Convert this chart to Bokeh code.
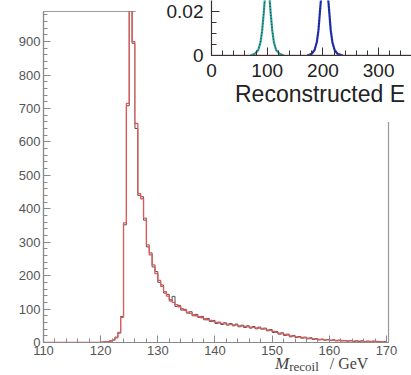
from bokeh.plotting import figure
from bokeh.models import Range1d, FixedTicker, Div
from bokeh.embed import file_html
from bokeh.resources import INLINE

# ---------------- data: main histogram (M_recoil, 0.5 GeV bins from 110 to 170) ----------------
bin_start = 110.0
bin_width = 0.5
mc_counts = [
    0, 0, 0, 0, 0, 0, 0, 0, 0, 0, 0, 0, 0, 0, 0, 0, 0, 0, 0, 0,
    1, 1, 2, 4, 7, 14, 30, 75, 358, 715, 1500, 900, 655, 445, 430, 372, 292, 262, 232, 206,
    186, 168, 152, 139, 128, 120, 113, 107, 101, 96, 91, 87, 83, 80, 77, 74, 71, 68, 66, 63,
    60, 58, 57, 56, 55, 54, 53, 52, 50, 49, 48, 47, 46, 45, 44, 43, 42, 40, 38, 36,
    33, 30, 28, 26, 24, 22, 20, 19, 17, 16, 15, 14, 13, 12, 11, 10, 9, 9, 8, 8,
    7, 7, 6, 6, 6, 5, 5, 5, 4, 4, 4, 4, 3, 3, 3, 3, 3, 2, 2, 2,
]
data_counts = [
    0, 0, 0, 0, 0, 0, 0, 0, 0, 0, 0, 0, 0, 0, 0, 0, 0, 0, 0, 0,
    1, 2, 2, 5, 8, 16, 28, 78, 352, 708, 1500, 895, 640, 440, 436, 366, 286, 268, 226, 212,
    180, 172, 148, 144, 124, 138, 108, 111, 97, 99, 88, 92, 80, 84, 75, 78, 68, 72, 63, 66,
    57, 61, 54, 59, 52, 57, 50, 55, 47, 52, 45, 50, 43, 48, 41, 46, 40, 43, 35, 39,
    30, 33, 25, 29, 21, 25, 17, 21, 15, 18, 13, 16, 11, 14, 9, 12, 8, 10, 7, 9,
    6, 8, 5, 7, 5, 6, 4, 6, 3, 5, 3, 5, 2, 4, 2, 4, 2, 3, 1, 3,
]
x_ticks = [110, 120, 130, 140, 150, 160, 170]
y_ticks = [0, 100, 200, 300, 400, 500, 600, 700, 800, 900]

# ---------------- data: inset (Reconstructed E) ----------------
inset_x_ticks = [0, 100, 200, 300]
inset_y_ticks = [0, 0.02]
teal_x = [70, 78, 84, 88, 91, 94, 97, 100, 103, 106, 109, 112, 116, 122, 130]
teal_y = [0, 0.0008, 0.0025, 0.006, 0.0115, 0.02, 0.03, 0.036, 0.03, 0.02, 0.0115, 0.006, 0.0025, 0.0008, 0]
blue_x = [172, 180, 185, 189, 192, 196, 203, 210, 214, 217, 221, 226, 236]
blue_y = [0, 0.0008, 0.0025, 0.006, 0.0115, 0.024, 0.04, 0.024, 0.0115, 0.006, 0.0025, 0.0008, 0]
bkg_x = [0, 360]
bkg_y = [0, 0]

# ---------------- main figure ----------------
edges = [bin_start + bin_width * i for i in range(len(mc_counts) + 1)]
mc_step = mc_counts + [mc_counts[-1]]
data_step = data_counts + [data_counts[-1]]

p = figure(width=411, height=375, x_range=Range1d(110, 170.35), y_range=Range1d(0, 990),
           output_backend="svg", toolbar_location=None,
           min_border_left=43, min_border_right=23, min_border_top=11, min_border_bottom=33)
p.xgrid.visible = False
p.ygrid.visible = False
p.outline_line_color = "#9a9a9a"
p.outline_line_width = 1.2
p.background_fill_color = "white"
p.border_fill_color = "white"

p.xaxis.ticker = FixedTicker(ticks=x_ticks, minor_ticks=list(range(110, 171, 2)))
p.yaxis.ticker = FixedTicker(ticks=y_ticks, minor_ticks=list(range(0, 991, 20)))
for ax in (p.xaxis[0], p.yaxis[0]):
    ax.axis_line_color = "#8a8a8a"
    ax.axis_line_width = 1.2
    ax.major_tick_line_color = "#8a8a8a"
    ax.minor_tick_line_color = "#8a8a8a"
    ax.major_tick_in = 7
    ax.major_tick_out = 0
    ax.minor_tick_in = 4
    ax.minor_tick_out = 0
    ax.major_label_text_font = "Liberation Sans"
    ax.major_label_text_font_size = "13px"
    ax.major_label_text_color = "#555555"
    ax.major_label_standoff = 3

p.step(x=edges, y=data_step, mode="after", line_color="#505050", line_width=1)
p.step(x=edges, y=mc_step, mode="after", line_color="#e05a5a", line_width=1.3)

# ---------------- inset figure ----------------
q = figure(width=276, height=122, x_range=Range1d(0, 359), y_range=Range1d(0, 0.025),
           output_backend="svg", toolbar_location=None,
           min_border_left=76, min_border_right=0, min_border_top=0, min_border_bottom=67,
           styles={"position": "absolute", "left": "135px", "top": "0px", "z-index": "10"})
q.xgrid.visible = False
q.ygrid.visible = False
q.outline_line_color = None
q.background_fill_color = "white"
q.border_fill_color = "white"
q.xaxis.ticker = FixedTicker(ticks=inset_x_ticks, minor_ticks=list(range(0, 360, 20)))
q.yaxis.ticker = FixedTicker(ticks=inset_y_ticks, minor_ticks=[0.005, 0.01, 0.015])
q.yaxis.major_label_overrides = {0: "0", 0.02: "0.02"}
for ax in (q.xaxis[0], q.yaxis[0]):
    ax.axis_line_color = "#333333"
    ax.axis_line_width = 1.2
    ax.major_tick_line_color = "#333333"
    ax.minor_tick_line_color = "#333333"
    ax.major_tick_in = 8
    ax.major_tick_out = 0
    ax.minor_tick_in = 5
    ax.minor_tick_out = 0
    ax.major_label_text_font = "Liberation Sans"
    ax.major_label_text_font_size = "19px"
    ax.major_label_text_color = "#222222"
    ax.major_label_standoff = 8

q.line(teal_x, teal_y, line_color="#2fa39c", line_width=2.2)
q.line(teal_x, teal_y, line_color="#1a3a3a", line_width=1, line_dash="1 2")
q.line(blue_x, blue_y, line_color="#2233bb", line_width=2.2)
q.line(blue_x, blue_y, line_color="#102040", line_width=1, line_dash="1 2")
q.line(bkg_x, bkg_y, line_color="#d04848", line_width=1.6)

# ---------------- axis titles as text blocks ----------------
main_title = Div(
    text='<i>M</i><span style="font-size:13px; position:relative; top:2px;">recoil</span>'
         '<span style="margin-left:11px; font-size:16px;">/ GeV</span>',
    styles={"position": "absolute", "left": "275px", "top": "355px", "z-index": "11",
            "font-family": "Liberation Serif", "font-size": "17px", "line-height": "1",
            "color": "#444444", "white-space": "nowrap", "margin": "0", "padding": "0"})
inset_title = Div(
    text="Reconstructed E",
    styles={"position": "absolute", "left": "235px", "top": "83px", "z-index": "11",
            "font-family": "Liberation Sans", "font-size": "23px", "line-height": "1",
            "color": "#222222", "white-space": "nowrap", "margin": "0", "padding": "0"})

open("out.html", "w").write(file_html([p, q, main_title, inset_title], INLINE))
